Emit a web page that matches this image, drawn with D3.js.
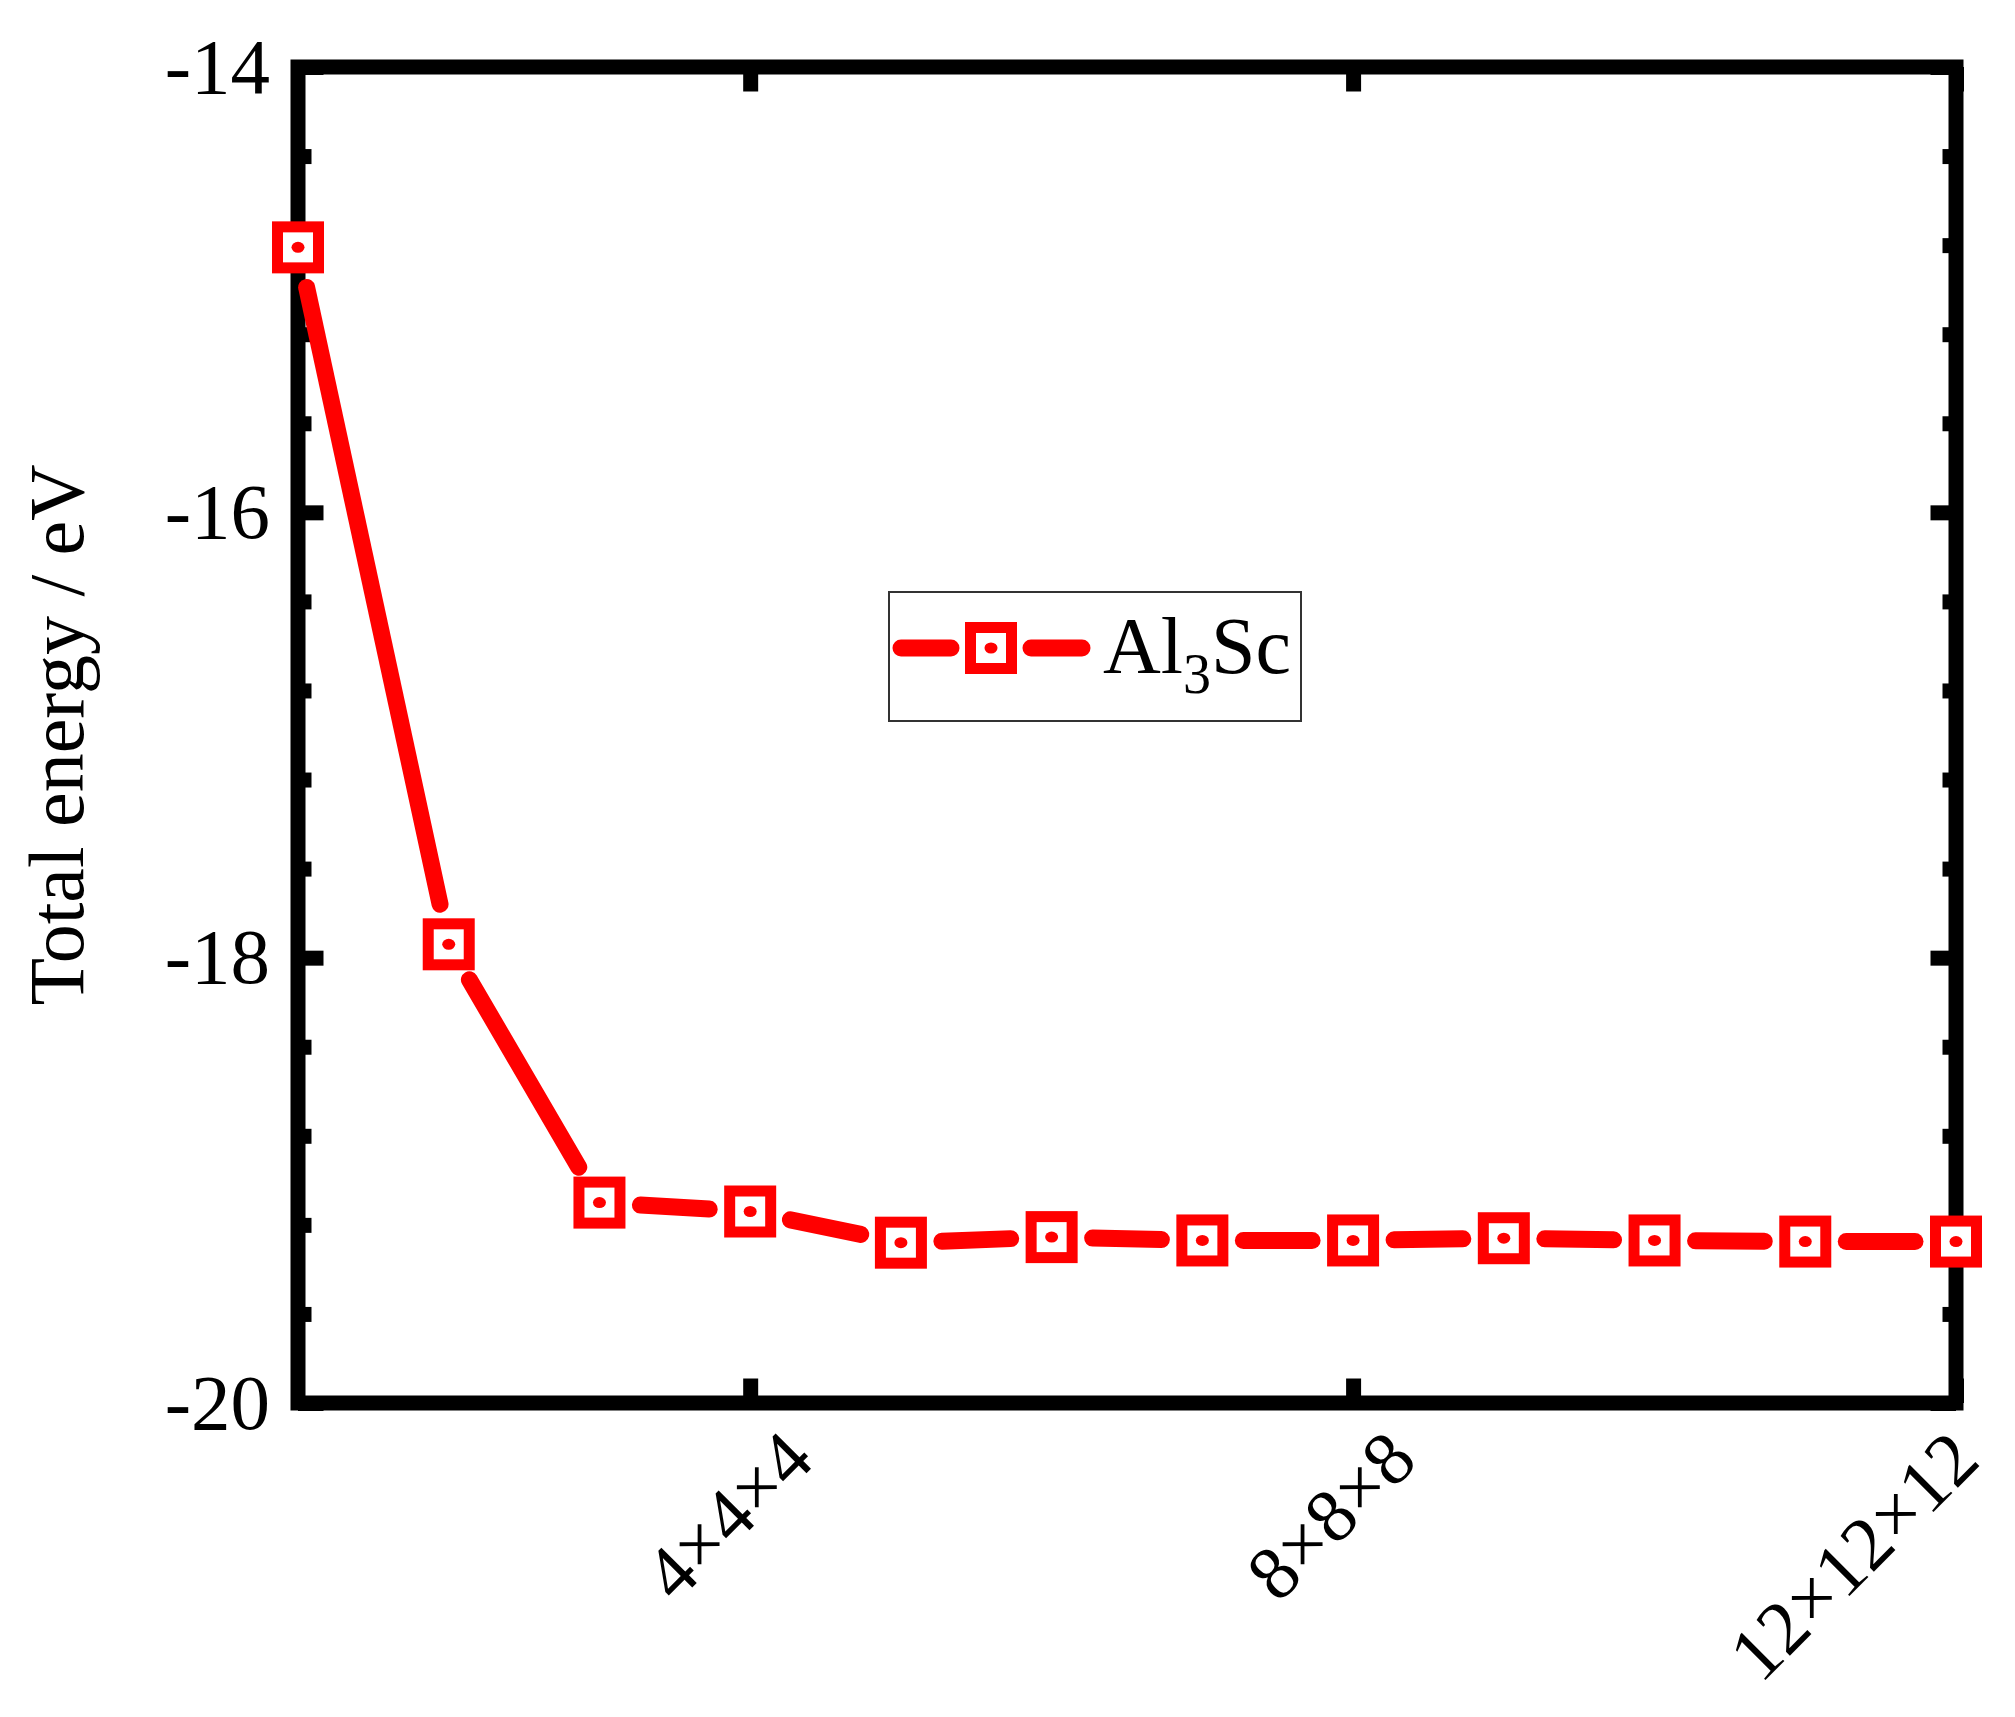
<!DOCTYPE html>
<html>
<head>
<meta charset="utf-8">
<script src="https://cdn.jsdelivr.net/npm/d3@7"></script>
<style>
  body { margin: 0; background: #fff; }
  svg { display: block; }
  text { font-family: "Liberation Serif", "Times New Roman", serif; fill: #000; }
</style>
</head>
<body>
<script>
// k-point mesh index (1 = 1x1x1 ... 12 = 12x12x12)
var meshIndex = [1, 2, 3, 4, 5, 6, 7, 8, 9, 10, 11, 12];
// total energy of Al3Sc in eV
var totalEnergy = [-14.81, -17.94, -19.10, -19.14, -19.28, -19.255, -19.27, -19.27, -19.26, -19.27, -19.275, -19.275];

var xTickValues = [4, 8, 12];
var xTickLabels = ["4×4×4", "8×8×8", "12×12×12"];
var yTickValues = [-14, -16, -18, -20];
var yTickLabels = ["-14", "-16", "-18", "-20"];
var yMinorValues = [-14.4, -14.8, -15.2, -15.6, -16.4, -16.8, -17.2, -17.6, -18.4, -18.8, -19.2, -19.6];

// set the dimensions and margins of the graph
var margin = {top: 67, right: 59, bottom: 314, left: 298},
    width = 2015 - margin.left - margin.right,
    height = 1717 - margin.top - margin.bottom;

var red = "#ff0000";
var frameW = 15;
var lineW = 17;
var trim = 41;      // gap between line ends and marker centres

var x = d3.scaleLinear().domain([1, 12]).range([0, width]);
var y = d3.scaleLinear().domain([-20, -14]).range([height, 0]);

var svg = d3.select("body").append("svg")
    .attr("width", 2015)
    .attr("height", 1717)
  .append("g")
    .attr("transform", "translate(" + margin.left + "," + margin.top + ")");

// frame
svg.append("rect")
    .attr("x", 0).attr("y", 0)
    .attr("width", width).attr("height", height)
    .attr("fill", "none")
    .attr("stroke", "#000")
    .attr("stroke-width", frameW);

function styleAxis(g) {
  g.select(".domain").remove();
  g.selectAll(".tick line").attr("stroke", "#000").attr("stroke-width", frameW);
}

// y axes, ticks pointing inside
svg.append("g")
    .attr("class", "y-axis")
    .call(d3.axisLeft(y).tickValues(yTickValues).tickSize(-(frameW / 2 + 18)).tickPadding(28)
          .tickFormat(function(d, i) { return yTickLabels[i]; }))
    .call(styleAxis)
    .selectAll("text")
    .attr("font-size", 79);

svg.append("g")
    .call(d3.axisLeft(y).tickValues(yMinorValues).tickSize(-(frameW / 2 + 6)).tickFormat(""))
    .call(styleAxis);

svg.append("g")
    .attr("transform", "translate(" + width + ",0)")
    .call(d3.axisRight(y).tickValues(yTickValues).tickSize(-(frameW / 2 + 18)).tickFormat(""))
    .call(styleAxis);

svg.append("g")
    .attr("transform", "translate(" + width + ",0)")
    .call(d3.axisRight(y).tickValues(yMinorValues).tickSize(-(frameW / 2 + 6)).tickFormat(""))
    .call(styleAxis);

// x axes
svg.append("g")
    .attr("class", "x-axis")
    .attr("transform", "translate(0," + height + ")")
    .call(d3.axisBottom(x).tickValues(xTickValues).tickSize(-(frameW / 2 + 17))
          .tickFormat(function(d, i) { return xTickLabels[i]; }))
    .call(styleAxis)
    .selectAll("text")
    .attr("font-size", 76)
    .attr("text-anchor", "end")
    .attr("x", 0).attr("y", 0).attr("dy", 0)
    .attr("transform", function(d) {
      // keep the rotated label inside the picture
      var dx = Math.min(x(d) + 66, width + 26) - x(d);
      return "translate(" + dx + ",60) rotate(-45)";
    });

svg.append("g")
    .call(d3.axisTop(x).tickValues(xTickValues).tickSize(-(frameW / 2 + 17)).tickFormat(""))
    .call(styleAxis);

// y axis title
svg.append("text")
    .attr("transform", "translate(" + (83 - margin.left) + "," + (height / 2) + ") rotate(-90)")
    .attr("text-anchor", "middle")
    .attr("font-size", 78)
    .text("Total energy / eV");

// data line, drawn as separate pieces with gaps at the markers
var pts = meshIndex.map(function(d, i) { return {x: x(d), y: y(totalEnergy[i])}; });
var segs = d3.pairs(pts).map(function(p) {
  var dx = p[1].x - p[0].x, dy = p[1].y - p[0].y;
  var len = Math.sqrt(dx * dx + dy * dy);
  var ux = dx / len, uy = dy / len;
  return {x1: p[0].x + ux * trim, y1: p[0].y + uy * trim,
          x2: p[1].x - ux * trim, y2: p[1].y - uy * trim};
});

svg.selectAll(".seg")
    .data(segs)
    .enter().append("line")
    .attr("class", "seg")
    .attr("x1", function(d) { return d.x1; })
    .attr("y1", function(d) { return d.y1; })
    .attr("x2", function(d) { return d.x2; })
    .attr("y2", function(d) { return d.y2; })
    .attr("stroke", red)
    .attr("stroke-width", lineW)
    .attr("stroke-linecap", "round");

function drawMarker(g, cx, cy) {
  g.append("rect")
      .attr("x", cx - 20.5).attr("y", cy - 20.5)
      .attr("width", 41).attr("height", 41)
      .attr("fill", "#fff")
      .attr("stroke", red)
      .attr("stroke-width", 11);
  g.append("ellipse")
      .attr("cx", cx).attr("cy", cy).attr("rx", 6.5).attr("ry", 5.5)
      .attr("fill", red);
}

var markers = svg.append("g");
pts.forEach(function(p) { drawMarker(markers, p.x, p.y); });

// legend
var legend = svg.append("g")
    .attr("transform", "translate(" + (889 - margin.left) + "," + (592 - margin.top) + ")");

legend.append("rect")
    .attr("width", 412).attr("height", 129)
    .attr("fill", "#fff")
    .attr("stroke", "#333")
    .attr("stroke-width", 2);

var lx0 = 12, lx1 = 193, lcx = 102, lcy = 56;
legend.append("line")
    .attr("x1", lx0).attr("y1", lcy).attr("x2", lcx - 40).attr("y2", lcy)
    .attr("stroke", red).attr("stroke-width", lineW).attr("stroke-linecap", "round");
legend.append("line")
    .attr("x1", lcx + 40).attr("y1", lcy).attr("x2", lx1).attr("y2", lcy)
    .attr("stroke", red).attr("stroke-width", lineW).attr("stroke-linecap", "round");
drawMarker(legend, lcx, lcy);

var lt = legend.append("text")
    .attr("x", 214).attr("y", 81)
    .attr("font-size", 80);
lt.append("tspan").text("Al");
lt.append("tspan").attr("font-size", 56).attr("dy", 20).text("3");
lt.append("tspan").attr("dy", -20).text("Sc");
</script>
</body>
</html>
